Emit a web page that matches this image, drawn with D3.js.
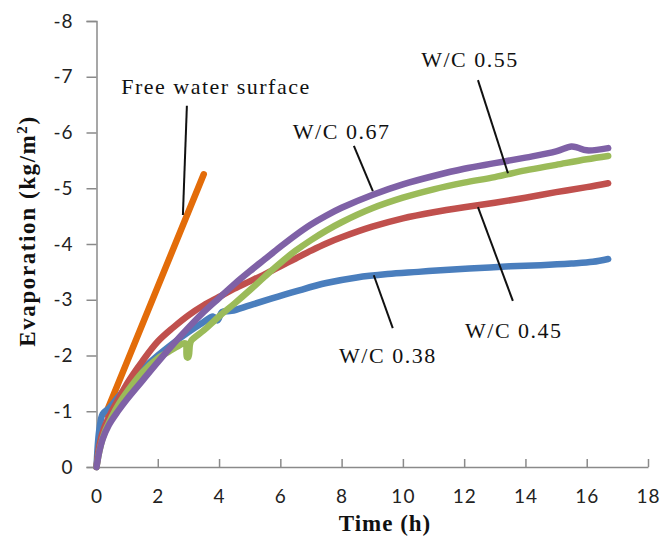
<!DOCTYPE html>
<html>
<head>
<meta charset="utf-8">
<script src="https://cdn.jsdelivr.net/npm/d3@7"></script>
<style>
  body { margin: 0; background: #fff; }
  svg { display: block; }
</style>
</head>
<body>
<div id="viz"></div>
<script>
// evaporation (kg/m2, negative = loss) vs time (h)
let xTicks = [0, 2, 4, 6, 8, 10, 12, 14, 16, 18];
let yTicks = [0, -1, -2, -3, -4, -5, -6, -7, -8];

let timeWC038 = [0, 0.05, 0.1, 0.2, 0.4, 0.7, 1.0, 1.5, 2.0, 2.5, 3.0, 3.5, 3.8, 3.95, 4.1, 4.4, 5.0, 5.7, 6.5, 7.5, 8.5, 9.5, 10.5, 11.5, 12.5, 13.5, 14.5, 15.5, 16.2, 16.7];
let evapWC038 = [0, -0.45, -0.7, -0.95, -1.05, -1.25, -1.45, -1.75, -2.0, -2.22, -2.42, -2.6, -2.7, -2.63, -2.78, -2.8, -2.9, -3.02, -3.15, -3.3, -3.4, -3.46, -3.5, -3.54, -3.57, -3.6, -3.62, -3.65, -3.68, -3.73];

let timeWC045 = [0, 0.1, 0.25, 0.5, 0.75, 1.0, 1.5, 2.0, 2.5, 3.0, 3.5, 4.0, 4.5, 5.0, 5.5, 6.0, 6.5, 7.0, 7.5, 8.0, 9.0, 10.0, 11.0, 12.0, 13.0, 14.0, 15.0, 16.0, 16.7];
let evapWC045 = [0, -0.4, -0.7, -1.0, -1.25, -1.5, -1.9, -2.25, -2.5, -2.72, -2.9, -3.05, -3.2, -3.33, -3.46, -3.6, -3.74, -3.88, -4.01, -4.12, -4.31, -4.46, -4.57, -4.66, -4.74, -4.83, -4.93, -5.02, -5.09];

let timeWC055 = [0, 0.1, 0.25, 0.5, 0.75, 1.0, 1.5, 2.0, 2.3, 2.6, 2.9, 2.95, 3.0, 3.05, 3.1, 3.5, 4.0, 4.5, 5.0, 5.5, 6.0, 6.5, 7.0, 7.5, 8.0, 9.0, 10.0, 11.0, 12.0, 13.0, 14.0, 15.0, 16.0, 16.7];
let evapWC055 = [0, -0.3, -0.6, -0.9, -1.15, -1.35, -1.7, -1.95, -2.05, -2.15, -2.22, -1.97, -1.97, -2.2, -2.27, -2.45, -2.7, -2.93, -3.17, -3.42, -3.66, -3.88, -4.07, -4.24, -4.39, -4.64, -4.83, -4.98, -5.1, -5.2, -5.32, -5.42, -5.52, -5.58];

let timeWC067 = [0, 0.1, 0.2, 0.4, 0.7, 1.0, 1.5, 2.0, 2.5, 3.0, 3.5, 4.0, 4.5, 5.0, 5.5, 6.0, 6.5, 7.0, 7.5, 8.0, 9.0, 10.0, 11.0, 12.0, 13.0, 14.0, 15.0, 15.5, 15.7, 16.0, 16.7];
let evapWC067 = [0, -0.3, -0.5, -0.75, -1.0, -1.22, -1.55, -1.88, -2.2, -2.5, -2.78, -3.03, -3.28, -3.51, -3.73, -3.95, -4.16, -4.35, -4.51, -4.65, -4.88, -5.07, -5.22, -5.35, -5.45, -5.55, -5.66, -5.75, -5.73, -5.68, -5.72];

let timeFree = [0.3, 3.5];
let evapFree = [-0.95, -5.25];

let width = 662;
let height = 537;

let svg = d3.select("#viz").append("svg")
    .attr("width", width)
    .attr("height", height);

let x = d3.scaleLinear().domain([0, 18]).range([96.5, 648]);
let y = d3.scaleLinear().domain([0, -8]).range([467, 21]);

let axisColor = "#8a8a8a";

// y axis
let yAxis = svg.append("g")
    .attr("transform", `translate(${x(0)},0)`)
    .call(d3.axisLeft(y).tickValues(yTicks).tickSize(10).tickPadding(13).tickFormat(d => d === 0 ? "0" : String(d).replace("−", "-")));
yAxis.select(".domain").attr("stroke", axisColor).attr("stroke-width", 1.5);
yAxis.selectAll(".tick line").attr("stroke", axisColor).attr("stroke-width", 1.5);
yAxis.selectAll("text")
    .attr("font-family", "Lato")
    .attr("font-size", 19)
    .attr("letter-spacing", 1)
    .attr("fill", "#222");

// x axis, ticks pointing up into the plot
let xAxis = svg.append("g")
    .attr("transform", `translate(0,${y(0)})`)
    .call(d3.axisBottom(x).tickValues(xTicks).tickSizeInner(-8).tickSizeOuter(0).tickPadding(23));
xAxis.select(".domain").attr("stroke", axisColor).attr("stroke-width", 1.5);
xAxis.selectAll(".tick line").attr("stroke", axisColor).attr("stroke-width", 1.5);
xAxis.selectAll("text")
    .attr("font-family", "Lato")
    .attr("font-size", 19)
    .attr("letter-spacing", 1)
    .attr("fill", "#222");

// axis titles
svg.append("text")
    .attr("x", 385)
    .attr("y", 531)
    .attr("text-anchor", "middle")
    .attr("font-family", "Liberation Serif")
    .attr("font-weight", "bold")
    .attr("font-size", 23)
    .attr("letter-spacing", 1)
    .attr("fill", "#111")
    .text("Time  (h)");

let yTitle = svg.append("text")
    .attr("transform", "translate(35,231) rotate(-90)")
    .attr("text-anchor", "middle")
    .attr("font-family", "Liberation Serif")
    .attr("font-weight", "bold")
    .attr("font-size", 23)
    .attr("letter-spacing", 1.6)
    .attr("fill", "#111");
yTitle.append("tspan").text("Evaporation  (kg/m");
yTitle.append("tspan").attr("font-size", 15).attr("dy", -8).text("2");
yTitle.append("tspan").attr("dy", 8).text(")");

// series
let series = [
    {name: "free", t: timeFree, v: evapFree, color: "#e36c09"},
    {name: "0.38", t: timeWC038, v: evapWC038, color: "#4a7ebd"},
    {name: "0.45", t: timeWC045, v: evapWC045, color: "#c0504d"},
    {name: "0.55", t: timeWC055, v: evapWC055, color: "#9bbb59"},
    {name: "0.67", t: timeWC067, v: evapWC067, color: "#7f61a6"}
];

let line = d3.line()
    .x(d => x(d[0]))
    .y(d => y(d[1]))
    .curve(d3.curveCatmullRom.alpha(0.5));

svg.append("g").selectAll("path")
    .data(series)
    .join("path")
    .attr("d", d => line(d.t.map((t, i) => [t, d.v[i]])))
    .attr("fill", "none")
    .attr("stroke", d => d.color)
    .attr("stroke-width", 6.5)
    .attr("stroke-linecap", "round")
    .attr("stroke-linejoin", "round");

// labels with leader lines (data coordinates)
let notes = [
    {text: "Free water surface", tx: 3.9, ty: -6.69, x1: 2.95, y1: -6.48, x2: 2.82, y2: -4.52},
    {text: "W/C 0.67", tx: 8.0, ty: -5.88, x1: 8.4, y1: -5.76, x2: 9.02, y2: -4.95},
    {text: "W/C 0.55", tx: 12.19, ty: -7.17, x1: 12.45, y1: -6.94, x2: 13.43, y2: -5.27},
    {text: "W/C 0.45", tx: 13.62, ty: -2.31, x1: 12.45, y1: -4.66, x2: 13.59, y2: -2.98},
    {text: "W/C 0.38", tx: 9.51, ty: -1.87, x1: 9.05, y1: -3.44, x2: 9.67, y2: -2.49}
];

svg.append("g").selectAll("line")
    .data(notes)
    .join("line")
    .attr("x1", d => x(d.x1))
    .attr("y1", d => y(d.y1))
    .attr("x2", d => x(d.x2))
    .attr("y2", d => y(d.y2))
    .attr("stroke", "#111")
    .attr("stroke-width", 2);

svg.append("g").selectAll("text")
    .data(notes)
    .join("text")
    .attr("x", d => x(d.tx))
    .attr("y", d => y(d.ty))
    .attr("text-anchor", "middle")
    .attr("font-family", "Liberation Serif")
    .attr("font-size", 22)
    .attr("letter-spacing", 1.5)
    .attr("fill", "#111")
    .text(d => d.text);
</script>
</body>
</html>
